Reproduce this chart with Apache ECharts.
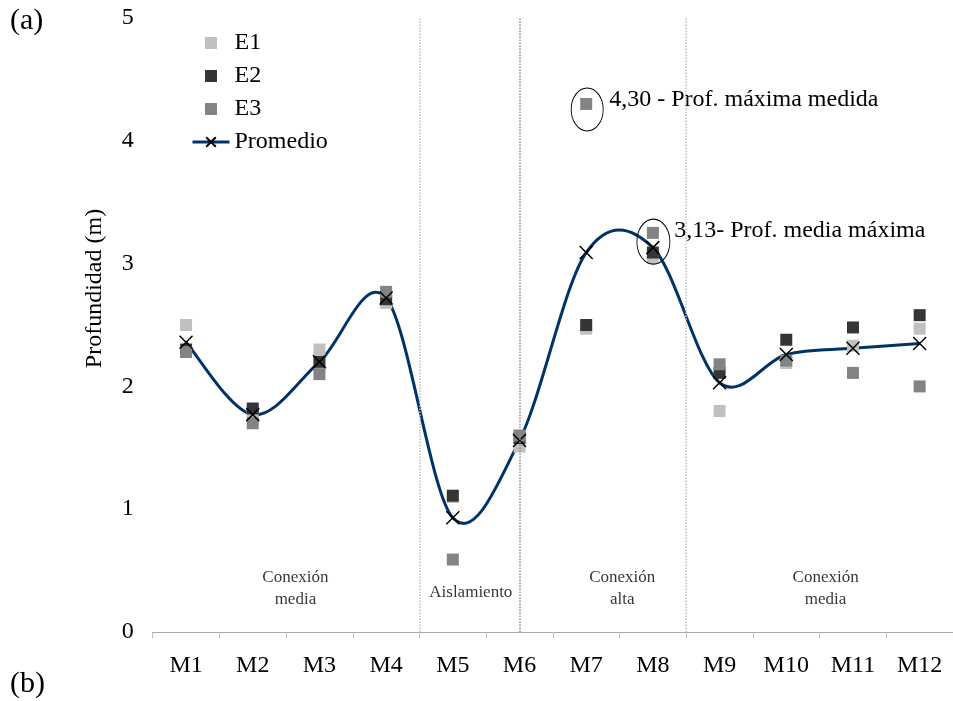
<!DOCTYPE html>
<html>
<head>
<meta charset="utf-8">
<script src="https://cdn.jsdelivr.net/npm/echarts@6/dist/echarts.min.js"></script>
<style>
  html, body { margin: 0; padding: 0; background: #fff; }
  #chart { width: 953px; height: 701px; }
</style>
</head>
<body>
<div id="chart"></div>
<script>
// Sampling sites
const categories = ['M1', 'M2', 'M3', 'M4', 'M5', 'M6', 'M7', 'M8', 'M9', 'M10', 'M11', 'M12'];

// Depth (m) measured in each campaign
const e1 = [2.50, 1.79, 2.30, 2.68, 1.10, 1.51, 2.47, 3.05, 1.80, 2.19, 2.33, 2.47];
const e2 = [2.30, 1.82, 2.20, 2.71, 1.11, 1.58, 2.50, 3.09, 2.11, 2.38, 2.48, 2.58];
const e3 = [2.28, 1.70, 2.10, 2.77, 0.59, 1.60, 4.30, 3.25, 2.18, 2.21, 2.11, 2.00];
// Mean depth per site
const promedio = [2.36, 1.77, 2.20, 2.72, 0.93, 1.56, 3.09, 3.13, 2.03, 2.26, 2.31, 2.35];

const yTicks = [0, 1, 2, 3, 4, 5];

// Connectivity zones: boundaries and labels on a 0..12 site scale
const zoneBounds = [4, 5.5, 8];
const zoneNames = ['Conexión\nmedia', 'Aislamiento', 'Conexión\nalta', 'Conexión\nmedia'];
const zoneLabelX = [2.14, 4.77, 7.04, 10.09];
const zoneLabelY = [0.358, 0.318, 0.358, 0.358];

const SERIF = 'Liberation Serif, Times New Roman, serif';
const NAVY = '#003366';

const e3Data = e3.map((v, i) => i === 6 ? {
  value: v,
  label: {
    show: true, formatter: '4,30 - Prof. máxima medida', position: 'right',
    distance: 17, offset: [0, -4], color: '#000', fontSize: 24, fontFamily: SERIF
  }
} : v);

const meanData = promedio.map((v, i) => i === 7 ? {
  value: v,
  label: {
    show: true, formatter: '3,13- Prof. media máxima', position: 'right',
    distance: 14, offset: [0, -17], color: '#000', fontSize: 24, fontFamily: SERIF
  }
} : v);

const ellipsePath = 'path://M0,-1A1,1 0 1,1 0,1A1,1 0 1,1 0,-1Z';
const crossPath = 'path://M0,0L10,10M10,0L0,10';
const squareIcon = 'path://M0,0H10V10H0Z';

// Smoothed mean curve: cubic Bezier segments with Catmull-Rom style tangents
function renderSmoothSegment(params, api) {
  const n = promedio.length;
  const i = params.dataIndex;
  if (i >= n - 1) return null;
  const pt = k => {
    const j = Math.max(0, Math.min(n - 1, k));
    return api.coord([j, promedio[j]]);
  };
  const p0 = pt(i - 1), p1 = pt(i), p2 = pt(i + 1), p3 = pt(i + 2);
  const t = 1 / 6;
  return {
    type: 'bezierCurve',
    shape: {
      x1: p1[0], y1: p1[1],
      cpx1: p1[0] + (p2[0] - p0[0]) * t, cpy1: p1[1] + (p2[1] - p0[1]) * t,
      cpx2: p2[0] - (p3[0] - p1[0]) * t, cpy2: p2[1] - (p3[1] - p1[1]) * t,
      x2: p2[0], y2: p2[1]
    },
    style: { stroke: NAVY, lineWidth: 3, fill: null }
  };
}

const chart = echarts.init(document.getElementById('chart'), null, { renderer: 'canvas' });

chart.setOption({
  animation: false,
  backgroundColor: '#fff',
  textStyle: { fontFamily: SERIF },
  grid: { left: 152.7, right: -3.3, top: 18, bottom: 69, containLabel: false },
  legend: {
    orient: 'vertical', left: 186, top: 26, itemWidth: 37, itemHeight: 12, itemGap: 9,
    textStyle: { fontSize: 24, color: '#000', fontFamily: SERIF },
    data: [
      { name: 'E1', icon: squareIcon },
      { name: 'E2', icon: squareIcon },
      { name: 'E3', icon: squareIcon },
      { name: 'Promedio', lineStyle: { color: NAVY, width: 3, opacity: 1 } }
    ]
  },
  xAxis: [{
    type: 'category', data: categories, boundaryGap: true,
    axisLine: { lineStyle: { color: '#a6a6a6', width: 1 } },
    axisTick: { show: true, length: 6, lineStyle: { color: '#bfbfbf' } },
    axisLabel: { interval: 0, fontSize: 24, color: '#000', margin: 22, fontFamily: SERIF },
    splitLine: { show: false }
  }, {
    type: 'value', min: 0, max: 12, show: false
  }],
  yAxis: {
    type: 'value', min: yTicks[0], max: yTicks[yTicks.length - 1], interval: 1,
    axisLine: { show: false }, axisTick: { show: false }, splitLine: { show: false },
    axisLabel: { fontSize: 24, color: '#000', margin: 19, fontFamily: SERIF }
  },
  graphic: [
    { type: 'text', left: 10, top: 6, style: { text: '(a)', font: '30px ' + SERIF, fill: '#000' } },
    { type: 'text', left: 10, top: 669, style: { text: '(b)', font: '30px ' + SERIF, fill: '#000' } },
    {
      type: 'text', x: 95, y: 288.5, rotation: Math.PI / 2,
      style: { text: 'Profundidad (m)', font: '24px ' + SERIF, fill: '#000', align: 'center', verticalAlign: 'middle' }
    }
  ],
  series: [
    {
      // zone dividers and zone names
      type: 'scatter', xAxisIndex: 1, silent: true, symbolSize: 0,
      data: zoneNames.map((n, i) => ({ name: n, value: [zoneLabelX[i], zoneLabelY[i]] })),
      label: {
        show: true, position: 'inside', formatter: '{b}', fontSize: 17, lineHeight: 22,
        color: '#000', fontFamily: SERIF
      },
      markLine: {
        silent: true, symbol: 'none', label: { show: false },
        data: zoneBounds.map((b, i) => ({
          xAxis: b,
          lineStyle: { color: i === 1 ? '#8c8c8c' : '#bdbdbd', type: 'dotted', width: 1.5 }
        }))
      }
    },
    {
      name: 'E1', type: 'scatter', data: e1, symbol: 'rect', symbolSize: 12,
      itemStyle: { color: '#c0c0c0', opacity: 1 }
    },
    {
      name: 'E2', type: 'scatter', data: e2, symbol: 'rect', symbolSize: 12,
      itemStyle: { color: '#353535', opacity: 1 }
    },
    {
      name: 'E3', type: 'scatter', data: e3Data, symbol: 'rect', symbolSize: 12,
      itemStyle: { color: '#838383', opacity: 1 }
    },
    {
      // circled highlights
      type: 'scatter', silent: true, symbol: ellipsePath, symbolKeepAspect: false,
      data: [
        { value: [6, e3[6]], symbolSize: [32, 43], symbolOffset: [1, 5.5] },
        { value: [7, promedio[7]], symbolSize: [33, 45], symbolOffset: [0.5, -6] }
      ],
      itemStyle: { color: 'rgba(0,0,0,0)', borderColor: '#000', borderWidth: 1, opacity: 1 }
    },
    {
      type: 'custom', silent: true,
      data: promedio.map((v, i) => [i, v]),
      renderItem: renderSmoothSegment
    },
    {
      name: 'Promedio', type: 'line', data: meanData,
      symbol: crossPath, symbolSize: 13, showAllSymbol: true,
      lineStyle: { color: NAVY, width: 3, opacity: 0 },
      itemStyle: { color: 'rgba(0,0,0,0)', borderColor: '#000', borderWidth: 1.5 }
    }
  ]
});
</script>
</body>
</html>
